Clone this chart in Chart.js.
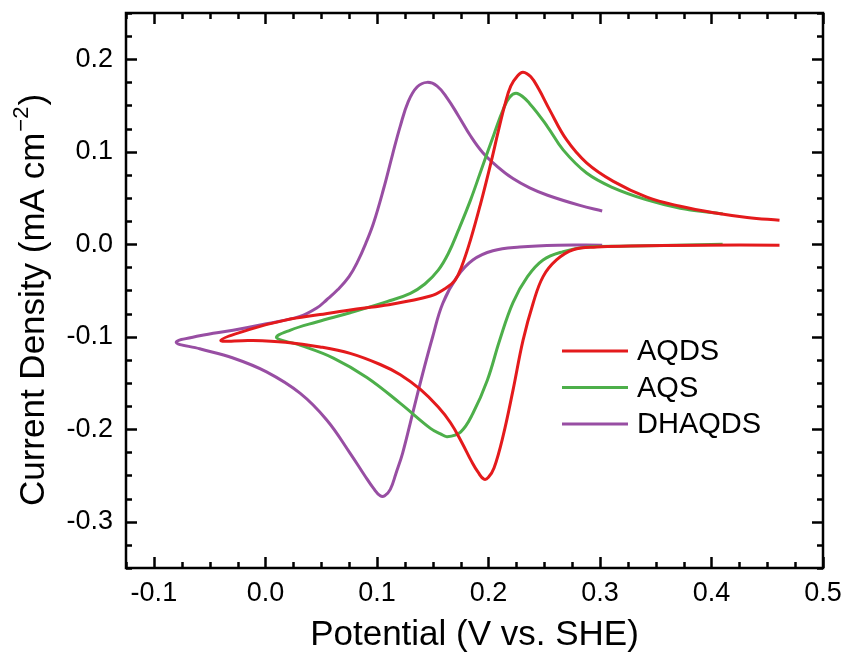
<!DOCTYPE html>
<html>
<head>
<meta charset="utf-8">
<script src="https://cdn.jsdelivr.net/npm/chart.js@4.4.1/dist/chart.umd.min.js"></script>
<style>
  html, body { margin: 0; padding: 0; background: #fff; }
  #wrap { width: 848px; height: 656px; }
</style>
</head>
<body>
<div id="wrap"><canvas id="cvChart" width="848" height="656"></canvas></div>
<script>
const seriesNames = ["AQDS", "AQS", "DHAQDS"];
const seriesColors = ["#e41a1c", "#4daf4a", "#984ea3"];

// cathodic sweep (right to left) then anodic sweep (left to right)
const aqdsPotential = [0.461, 0.390, 0.327, 0.297, 0.276, 0.261, 0.249, 0.240, 0.231, 0.222, 0.213, 0.205, 0.200, 0.196, 0.191, 0.185, 0.176, 0.166, 0.155, 0.139, 0.121, 0.103, 0.076, 0.049, 0.018, -0.014, -0.040,
  -0.014, 0.018, 0.049, 0.076, 0.107, 0.148, 0.161, 0.170, 0.176, 0.184, 0.193, 0.202, 0.209, 0.215, 0.220, 0.226, 0.231, 0.238, 0.245, 0.255, 0.270, 0.288, 0.312, 0.342, 0.372, 0.402, 0.432, 0.461];
const aqdsCurrent = [-0.001, -0.001, -0.002, -0.003, -0.006, -0.017, -0.035, -0.064, -0.104, -0.158, -0.208, -0.242, -0.252, -0.254, -0.247, -0.235, -0.214, -0.193, -0.176, -0.157, -0.141, -0.130, -0.118, -0.111, -0.106, -0.104, -0.104,
  -0.092, -0.082, -0.076, -0.071, -0.066, -0.056, -0.048, -0.039, -0.024, 0.005, 0.044, 0.087, 0.123, 0.152, 0.171, 0.182, 0.186, 0.181, 0.168, 0.145, 0.113, 0.088, 0.068, 0.051, 0.041, 0.034, 0.029, 0.026];

const aqsPotential = [0.410, 0.327, 0.288, 0.267, 0.249, 0.235, 0.222, 0.210, 0.199, 0.186, 0.175, 0.163, 0.157, 0.148, 0.121, 0.091, 0.061, 0.031, 0.010,
  0.022, 0.046, 0.076, 0.109, 0.130, 0.143, 0.155, 0.164, 0.173, 0.184, 0.194, 0.205, 0.213, 0.219, 0.226, 0.237, 0.253, 0.267, 0.288, 0.312, 0.342, 0.372, 0.402, 0.410];
const aqsCurrent = [0.000, -0.002, -0.003, -0.008, -0.017, -0.035, -0.063, -0.104, -0.147, -0.183, -0.203, -0.208, -0.205, -0.199, -0.172, -0.144, -0.123, -0.109, -0.101,
  -0.093, -0.084, -0.074, -0.062, -0.053, -0.043, -0.028, -0.010, 0.015, 0.048, 0.082, 0.119, 0.145, 0.159, 0.163, 0.152, 0.127, 0.102, 0.077, 0.061, 0.048, 0.039, 0.034, 0.033];

const dhaqdsPotential = [0.302, 0.262, 0.228, 0.204, 0.186, 0.172, 0.159, 0.150, 0.141, 0.132, 0.123, 0.117, 0.112, 0.107, 0.103, 0.097, 0.089, 0.076, 0.055, 0.031, 0.001, -0.029, -0.059, -0.080,
  -0.059, -0.029, 0.001, 0.031, 0.046, 0.055, 0.065, 0.075, 0.083, 0.090, 0.097, 0.106, 0.114, 0.121, 0.128, 0.136, 0.145, 0.154, 0.163, 0.173, 0.184, 0.195, 0.208, 0.222, 0.237, 0.253, 0.282, 0.302];
const dhaqdsCurrent = [-0.001, -0.001, -0.003, -0.007, -0.017, -0.035, -0.064, -0.100, -0.140, -0.183, -0.226, -0.248, -0.265, -0.272, -0.272, -0.264, -0.250, -0.226, -0.190, -0.161, -0.138, -0.123, -0.113, -0.106,
  -0.099, -0.093, -0.086, -0.078, -0.069, -0.060, -0.049, -0.035, -0.018, 0.001, 0.023, 0.060, 0.097, 0.128, 0.154, 0.170, 0.175, 0.171, 0.158, 0.139, 0.117, 0.099, 0.084, 0.071, 0.061, 0.053, 0.042, 0.036];

const xTicks = [-0.1, 0.0, 0.1, 0.2, 0.3, 0.4, 0.5];
const yTicks = [-0.3, -0.2, -0.1, 0.0, 0.1, 0.2];
const xMin = -0.125, xMax = 0.5, yMin = -0.35, yMax = 0.25, minorStep = 0.025;

function toPoints(xs, ys) {
  return xs.map((x, i) => ({ x: x, y: ys[i] }));
}

const allSeries = [[aqdsPotential, aqdsCurrent], [aqsPotential, aqsCurrent], [dhaqdsPotential, dhaqdsCurrent]];

const FONT = "'Liberation Sans', Arial, sans-serif";

// frame, inward ticks on all sides, y title and legend
const framePlugin = {
  id: 'frame',
  afterDraw(chart) {
    const ctx = chart.ctx;
    const a = chart.chartArea;
    const xs = chart.scales.x, ys = chart.scales.y;
    ctx.save();
    ctx.strokeStyle = '#000';
    ctx.lineWidth = 2.5;
    ctx.strokeRect(a.left, a.top, a.right - a.left, a.bottom - a.top);

    ctx.beginPath();
    for (let v = xMin; v <= xMax + 1e-9; v += minorStep) {
      const major = xTicks.some(t => Math.abs(t - v) < 1e-6);
      const len = major ? 11 : 6;
      const px = Math.round(xs.getPixelForValue(v)) + 0.5;
      ctx.moveTo(px, a.bottom); ctx.lineTo(px, a.bottom - len);
      ctx.moveTo(px, a.top); ctx.lineTo(px, a.top + len);
    }
    for (let v = yMin; v <= yMax + 1e-9; v += minorStep) {
      const major = yTicks.some(t => Math.abs(t - v) < 1e-6);
      const len = major ? 11 : 6;
      const py = Math.round(ys.getPixelForValue(v)) + 0.5;
      ctx.moveTo(a.left, py); ctx.lineTo(a.left + len, py);
      ctx.moveTo(a.right, py); ctx.lineTo(a.right - len, py);
    }
    ctx.stroke();

    // y axis title with superscript
    ctx.translate(34, 301);
    ctx.rotate(-Math.PI / 2);
    ctx.fillStyle = '#000';
    ctx.textBaseline = 'middle';
    const main = 'Current Density (mA cm';
    const sup = '\u22122';
    const tail = ')';
    ctx.font = '35px ' + FONT;
    const w1 = ctx.measureText(main).width;
    const w3 = ctx.measureText(tail).width;
    ctx.font = '22px ' + FONT;
    const w2 = ctx.measureText(sup).width;
    let x0 = -(w1 + w2 + w3) / 2;
    ctx.font = '35px ' + FONT;
    ctx.textAlign = 'left';
    ctx.fillText(main, x0, 0);
    ctx.font = '22px ' + FONT;
    ctx.fillText(sup, x0 + w1 + 1, -12);
    ctx.font = '35px ' + FONT;
    ctx.fillText(tail, x0 + w1 + w2 + 2, 0);
    ctx.setTransform(1, 0, 0, 1, 0, 0);

    // legend
    ctx.font = '29px ' + FONT;
    ctx.textAlign = 'left';
    ctx.textBaseline = 'middle';
    chart.data.datasets.forEach((ds, i) => {
      const y = 351 + i * 36.5;
      ctx.strokeStyle = ds.borderColor;
      ctx.lineWidth = 3;
      ctx.beginPath();
      ctx.moveTo(562, y); ctx.lineTo(628, y);
      ctx.stroke();
      ctx.fillStyle = '#000';
      ctx.fillText(ds.label, 637, y + 1);
    });
    ctx.restore();
  }
};

const datasets = seriesNames.map((name, i) => ({
  label: name,
  data: toPoints(allSeries[i][0], allSeries[i][1]),
  borderColor: seriesColors[i],
  backgroundColor: seriesColors[i],
  borderWidth: 3,
  pointRadius: 0,
  showLine: true,
  tension: 0.4,
  fill: false
}));

new Chart(document.getElementById('cvChart'), {
  type: 'scatter',
  data: { datasets: datasets },
  options: {
    responsive: false,
    animation: false,
    devicePixelRatio: 1,
    layout: { padding: { top: 13, right: 25, left: 0, bottom: 0 } },
    plugins: { legend: { display: false }, tooltip: { enabled: false } },
    scales: {
      x: {
        type: 'linear',
        min: xMin,
        max: xMax,
        grid: { display: false, drawTicks: false },
        border: { display: false },
        afterBuildTicks: s => { s.ticks = xTicks.map(v => ({ value: v })); },
        afterFit: s => { s.height = 88; s.paddingLeft = 0; s.paddingRight = 0; },
        ticks: {
          autoSkip: false,
          maxRotation: 0,
          padding: 9,
          color: '#000',
          font: { family: FONT, size: 27 },
          callback: v => v.toFixed(1)
        },
        title: {
          display: true,
          text: 'Potential (V vs. SHE)',
          color: '#000',
          font: { family: FONT, size: 35 },
          padding: { top: 0, bottom: 0 }
        }
      },
      y: {
        type: 'linear',
        min: yMin,
        max: yMax,
        grid: { display: false, drawTicks: false },
        border: { display: false },
        afterBuildTicks: s => { s.ticks = yTicks.map(v => ({ value: v })); },
        afterFit: s => { s.width = 126; s.paddingTop = 0; s.paddingBottom = 0; },
        ticks: {
          autoSkip: false,
          padding: 13,
          color: '#000',
          font: { family: FONT, size: 27 },
          callback: v => v.toFixed(1)
        }
      }
    }
  },
  plugins: [framePlugin]
});
</script>
</body>
</html>
